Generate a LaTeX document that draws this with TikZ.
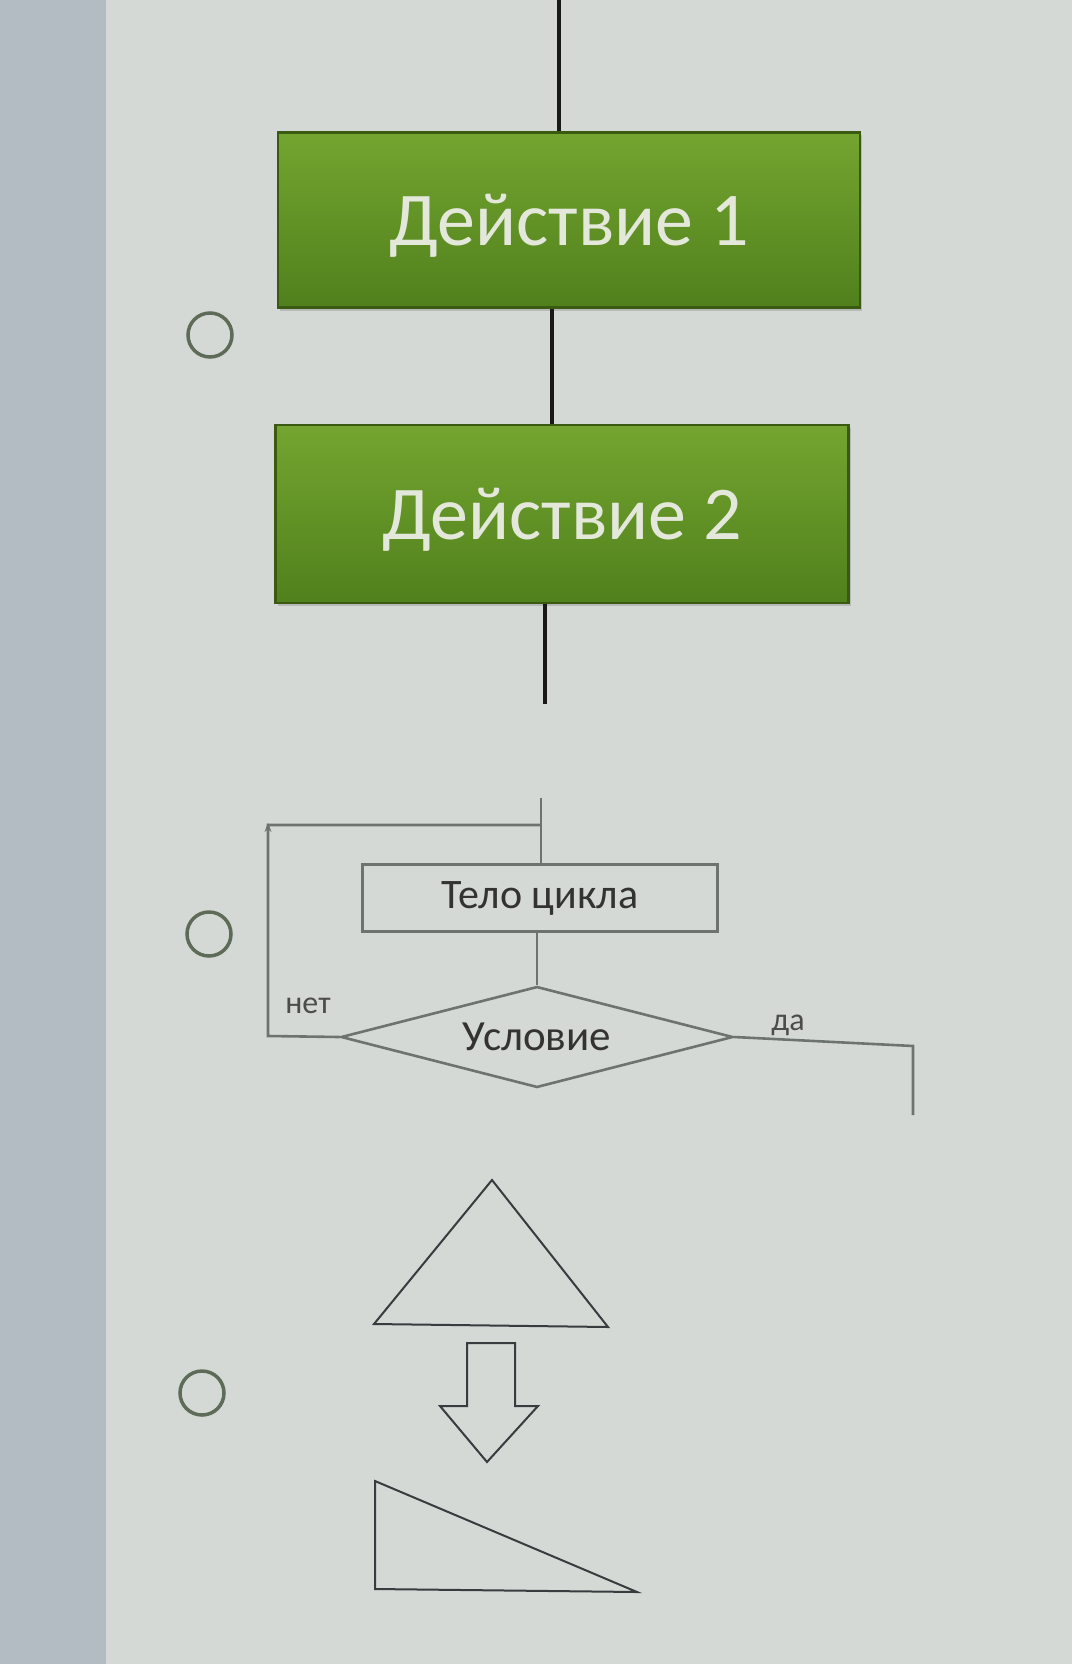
\documentclass[tikz,border=0pt]{standalone}
\usepackage{fontspec}
\setmainfont{Carlito}
\usetikzlibrary{shapes.geometric,arrows.meta,shadows}
\definecolor{bgmain}{HTML}{D5D9D5}
\definecolor{bgleft}{HTML}{B4BCC3}
\definecolor{gtop}{HTML}{74A530}
\definecolor{gbot}{HTML}{50801C}
\definecolor{gedge}{HTML}{3A5A12}
\definecolor{gtext}{HTML}{E3E8DA}
\definecolor{loopline}{HTML}{6D746F}
\definecolor{shapeline}{HTML}{373C3E}
\definecolor{radio}{HTML}{5E6B58}
\tikzset{
  actionbox/.style={draw=gedge, line width=2.5pt, top color=gtop, bottom color=gbot,
    text=gtext, font=\fontsize{76}{84}\selectfont, inner sep=0pt,
    drop shadow={shadow xshift=2pt, shadow yshift=-3pt, opacity=0.35}},
  blackline/.style={draw=black!90, line width=4pt},
  loopl/.style={draw=loopline, line width=2.6pt},
  loopbox/.style={draw=loopline, line width=2.6pt, fill=bgmain, inner sep=0pt,
    font=\fontsize{42}{48}\selectfont, text=black!80},
  loopdia/.style={diamond, aspect=3.9, draw=loopline, line width=2.6pt, inner sep=0pt,
    font=\fontsize{43}{48}\selectfont, text=black!80},
  smalllbl/.style={font=\fontsize{32}{36}\selectfont, text=black!70, inner sep=0pt},
  radiobtn/.style={circle, draw=radio, line width=3.5pt, minimum size=44pt, inner sep=0pt},
  shapel/.style={draw=shapeline, line width=2pt, line join=miter},
}
\begin{document}
\begin{tikzpicture}[x=1pt, y=-1pt]
\useasboundingbox (0,0) rectangle (1072,1664);
\fill[bgmain] (0,0) rectangle (1072,1664);
\fill[bgleft] (0,0) rectangle (106,1664);

% --- option 1: green action boxes
\coordinate (top1) at (559,0);
\node[actionbox, minimum width=582pt, minimum height=175pt, text depth=-8pt] (a1) at (569,220) {Действие 1};
\node[actionbox, minimum width=573pt, minimum height=178pt, text depth=-8pt] (a2) at (562,514) {Действие 2};
\coordinate (bot2) at (545,704);
\draw[blackline] (top1) -- (a1.north -| top1);
\draw[blackline] (a1.south -| 552,0) -- (a2.north -| 552,0);
\draw[blackline] (a2.south -| bot2) -- (bot2);

\node[radiobtn] (r1) at (210,335) {};

% --- option 2: loop with postcondition
\node[loopbox, minimum width=355pt, minimum height=67pt] (body) at (540,898) {Тело цикла};
\node[loopdia, minimum width=392pt, minimum height=101pt] (cond) at (537,1037) {Условие};
\coordinate (ltop) at (541,798);
\coordinate (ljoin) at (541,825);
\coordinate (lcorner) at (268,825);
\coordinate (lbottom) at (268,1036);
\coordinate (rcorner) at (913,1046);
\coordinate (rend) at (913,1115);
\draw[loopl] (ltop) -- (body.north -| ltop);
\draw[loopl] (body.south -| cond.north) -- (cond.north);
\draw[loopl] (cond.west) -- (lbottom) -- (lcorner) -- (ljoin);
\draw[loopl, -{Stealth[length=9pt,width=7pt]}] (lbottom) -- ([yshift=2pt]lcorner);
\draw[loopl] (cond.east) -- (rcorner) -- (rend);
\node[smalllbl] (net) at (308,1006) {нет};
\node[smalllbl] (da) at (788,1025) {да};

\node[radiobtn] (r2) at (209,934) {};

% --- option 3: geometric shapes
\draw[shapel] (492,1180) -- (374,1324) -- (608,1327) -- cycle;
\draw[shapel] (467,1343) -- (515,1343) -- (515,1406) -- (538,1406) -- (487,1462)
  -- (440,1406) -- (467,1406) -- cycle;
\draw[shapel] (375,1481) -- (375,1589) -- (637,1592) -- cycle;

\node[radiobtn] (r3) at (202,1393) {};
\end{tikzpicture}
\end{document}
